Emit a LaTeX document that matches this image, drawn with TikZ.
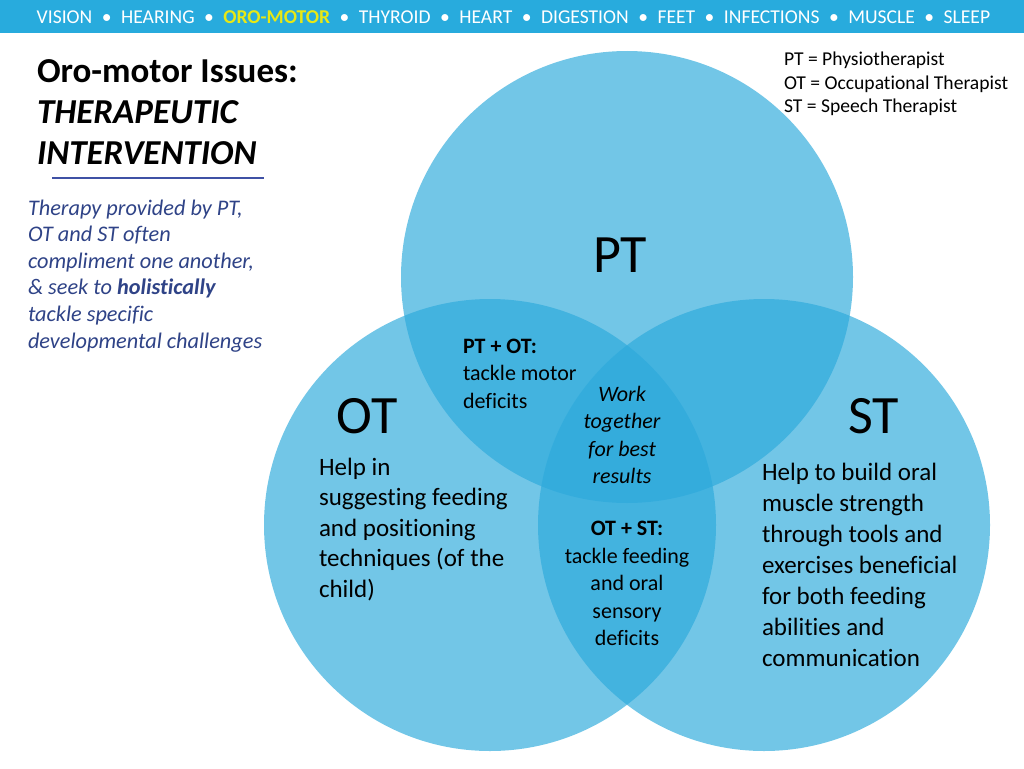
\documentclass[tikz,border=0pt]{standalone}
\usepackage{fontspec}
\setmainfont{Carlito}[Ligatures={NoCommon}]
\definecolor{barblue}{RGB}{40,171,221}
\definecolor{circblue}{RGB}{45,170,220}
\definecolor{navytext}{RGB}{47,67,135}
\definecolor{lineblue}{RGB}{63,81,165}
\definecolor{hiyellow}{RGB}{232,232,20}
\newcommand\barsep{\hspace{9.5pt}\textbullet\hspace{9.5pt}}
\begin{document}
\begin{tikzpicture}[x=1pt,y=-1pt,
  venn/.style={fill=circblue,fill opacity=0.67,draw=none},
  txt/.style={inner sep=0pt,outer sep=0pt},
  biglabel/.style={txt,anchor=base,font=\fontsize{54}{60}\selectfont},
  bodytext/.style={txt,anchor=north west,align=left,font=\fontsize{25}{30.7}\selectfont},
  smalltext/.style={txt,align=center,anchor=north,font=\fontsize{22}{27.4}\selectfont}
]
\useasboundingbox (0,0) rectangle (1024,768);
\fill[white] (0,0) rectangle (1024,768);
% top bar
\fill[barblue] (0,0) rectangle (1024,33.3);
\node[txt,anchor=base,text=white,font=\fontsize{19.6}{22}\selectfont] (bar) at (513.5,23.3)
  {VISION\barsep HEARING\barsep\textcolor{hiyellow}{\bfseries ORO-MOTOR}\barsep THYROID\barsep HEART\barsep DIGESTION\barsep FEET\barsep INFECTIONS\barsep MUSCLE\barsep SLEEP};
% circles
\fill[venn] (627,277) circle (226);
\fill[venn] (490,525) circle (226);
\fill[venn] (764,525) circle (226);
% title
\node[txt,anchor=north west,align=left,font=\fontsize{35}{41}\selectfont\bfseries] (title) at (37,53.3)
  {\strut Oro-motor Issues:\\\itshape THERAPEUTIC\\\itshape INTERVENTION};
\draw[lineblue,line width=1.8] (52,178.3) coordinate (ul1) -- (264,178.3) coordinate (ul2);
\node[txt,anchor=north west,align=left,text=navytext,font=\fontsize{22.3}{26.6}\selectfont\itshape] (intro) at (28,196.4)
  {\strut Therapy provided by PT,\\OT and ST often\\compliment one another,\\\& seek to \textbf{holistically}\\tackle specific\\developmental challenges};
% legend
\node[txt,anchor=north west,align=left,font=\fontsize{19.6}{23.4}\selectfont] (legend) at (784,49.6)
  {\strut PT = Physiotherapist\\OT = Occupational Therapist\\ST = Speech Therapist};
% big labels
\node[biglabel] (pt) at (620,272) {PT};
\node[biglabel] (ot) at (367,433) {OT};
\node[biglabel] (st) at (873.5,433) {ST};
% region texts
\node[txt,anchor=north west,align=left,font=\fontsize{22}{27.5}\selectfont] (ptot) at (463,333.75)
  {\strut\textbf{PT + OT:}\\tackle motor\\deficits};
\node[smalltext,font=\fontsize{22}{27.2}\selectfont\itshape] (work) at (622,382.7)
  {\strut Work\\together\\for best\\results};
\node[smalltext] (otst) at (627,516.8)
  {\strut\textbf{OT + ST:}\\tackle feeding\\and oral\\sensory\\deficits};
\node[bodytext,font=\fontsize{25}{30.5}\selectfont] (otbody) at (319,453.65)
  {\strut Help in\\suggesting feeding\\and positioning\\techniques (of the\\child)};
\node[bodytext,font=\fontsize{25}{31}\selectfont] (stbody) at (762,458.3)
  {\strut Help to build oral\\muscle strength\\through tools and\\exercises beneficial\\for both feeding\\abilities and\\communication};
\end{tikzpicture}
\end{document}
